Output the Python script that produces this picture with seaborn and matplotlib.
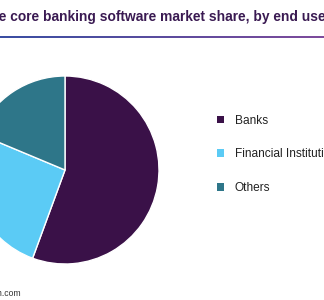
import matplotlib
matplotlib.use("Agg")
import matplotlib.pyplot as plt
import seaborn as sns
import numpy as np
from matplotlib.patches import Patch
from matplotlib.colors import LinearSegmentedColormap

sns.set_theme(style="white")
plt.rcParams['font.family'] = ['Liberation Sans', 'DejaVu Sans']

categories = ["Banks", "Financial Institutions", "Others"]
shares = [55.6, 25.7, 18.7]
colors = ["#3A1148", "#5BCBF5", "#2E7689"]
title = "Europe core banking software market share, by end use, 2021 (%)"
title_prefix = "Europ"
source = "Source: www.grandviewresearch.com"
source_prefix = "Source: www.grandviewresearch"

W, H = 324, 300
fig = plt.figure(figsize=(W / 100, H / 100), dpi=100)
fig.patch.set_facecolor("white")

# pie axes: center (65,170) px, radius 94 px
cx, cy, r = 65, 170, 94
ax = fig.add_axes([(cx - r) / W, (H - cy - r) / H, 2 * r / W, 2 * r / H])
ax.pie(shares, colors=colors, startangle=90, counterclock=False,
       wedgeprops=dict(edgecolor="white", linewidth=1.0))
ax.set_xlim(-1, 1)
ax.set_ylim(-1, 1)
ax.set_aspect("equal")
ax.axis("off")

renderer = fig.canvas.get_renderer()

def offscreen_text(full, prefix, x_px, y_px, **kw):
    t = fig.text(0, 0, prefix, **kw)
    w = t.get_window_extent(renderer).width
    t.remove()
    fig.text((x_px - w) / W, 1 - y_px / H, full, va="center", **kw)

offscreen_text(title, title_prefix, -1, 17, fontsize=9.95, fontweight="bold", color="#3A1A52")
offscreen_text(source, source_prefix, 2, 294, fontsize=6.2, color="#333333")

# gradient rule under the title
lax = fig.add_axes([0, 1 - 38 / H, 1, 2 / H])
grad = np.linspace(0, 1, 256).reshape(1, -1)
cmap = LinearSegmentedColormap.from_list("g", ["#3A4FA3", "#5B4C9E", "#7E4B9C"])
lax.imshow(grad, aspect="auto", cmap=cmap, extent=[0, 1, 0, 1])
lax.axis("off")

handles = [Patch(facecolor=c, edgecolor="none") for c in colors]
fig.legend(handles, categories, loc="upper left",
           bbox_to_anchor=(206 / W, 1 - 104 / H), frameon=False,
           fontsize=8.6, handlelength=0.6, handleheight=0.6,
           handletextpad=0.92, labelspacing=1.82, labelcolor="#222222")

fig.savefig("out.png", dpi=100, facecolor="white")
